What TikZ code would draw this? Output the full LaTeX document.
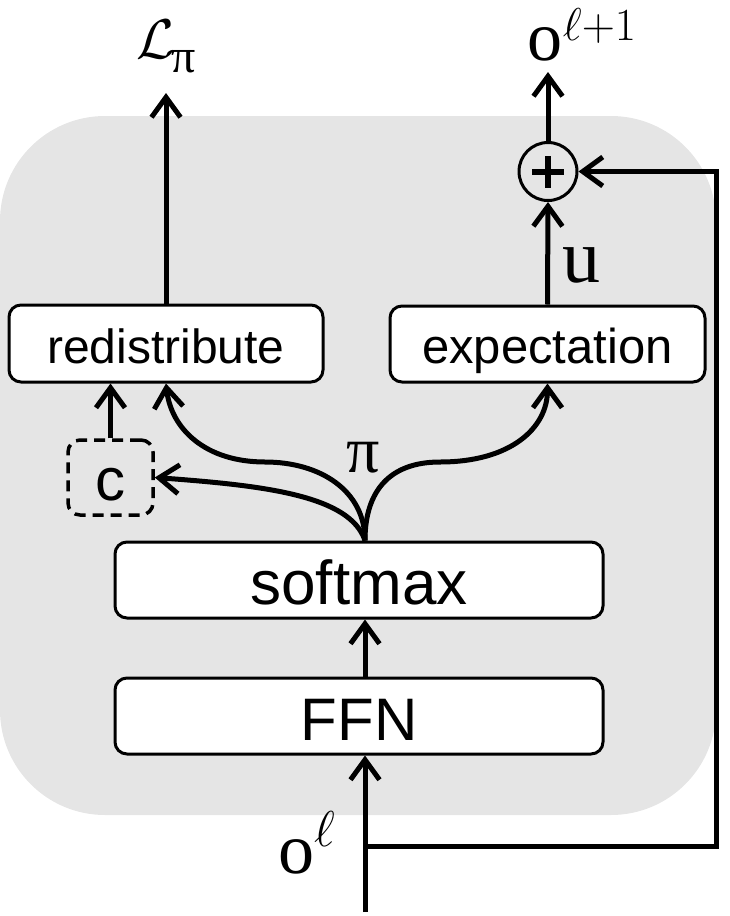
\RequirePackage{fix-cm}
\documentclass[tikz,border=0pt]{standalone}
\usepackage{fontspec}
\usetikzlibrary{arrows.meta}
\newfontfamily\arial{Liberation Sans}
\newfontfamily\tms{Liberation Serif}
\begin{document}
\begin{tikzpicture}[x=1pt,y=-1pt,
  box/.style={draw,line width=3pt,rounded corners=12pt,fill=white,inner sep=0pt,text depth=0pt},
  conn/.style={line width=5pt,-{Straight Barb[length=20pt,width=29pt]}},
  lbl/.style={inner sep=0pt,anchor=base}]
\useasboundingbox (0,0) rectangle (730,916);
\fill[gray!20,rounded corners=105pt] (0,116) rectangle (716,815);

\node[box,minimum width=314pt,minimum height=77pt,text height=39pt,font=\arial\fontsize{48}{48}\selectfont] (red) at (166,343.5) {redistribute};
\node[box,minimum width=315pt,minimum height=76pt,text height=39pt,font=\arial\fontsize{49}{49}\selectfont] (exp) at (547.5,344) {expectation};
\node[box,minimum width=488pt,minimum height=76pt,text height=48pt,font=\arial\fontsize{62}{62}\selectfont] (soft) at (359,580) {softmax};
\node[box,minimum width=488pt,minimum height=76pt,text height=48pt,font=\arial\fontsize{60}{60}\selectfont] (ffn) at (359,716) {FFN};
\node[draw,line width=3.5pt,rounded corners=12pt,dash pattern=on 11pt off 7pt,inner sep=0pt,text depth=0pt,text height=45pt,minimum width=85pt,minimum height=75pt,font=\arial\fontsize{60}{60}\selectfont] (c) at (110.5,477.5) {c};
\node[circle,draw,line width=3pt,minimum size=58pt,inner sep=0pt] (plus) at (548,171.5) {};
\draw[line width=6pt] ([xshift=-16pt]plus.center) -- ([xshift=16pt]plus.center);
\draw[line width=6pt] ([yshift=-16pt]plus.center) -- ([yshift=16pt]plus.center);

\node[lbl] (Lpi) at (166,58) {\fontsize{56}{56}\selectfont$\mathcal{L}$\kern-3pt\raisebox{-14pt}{\tms\fontsize{48}{48}\selectfont π}};
\node[lbl] (out) at (582,60) {\tms\fontsize{70}{70}\selectfont o\raisebox{20pt}{\fontsize{46}{46}\selectfont$\ell{+}1$}};
\node[lbl] (oin) at (307,873) {\tms\fontsize{72}{72}\selectfont o$^{\ell}$};
\node[lbl] (u) at (581,282) {\tms\fontsize{76}{76}\selectfont u};
\node[lbl] (pi) at (363,472) {\tms\fontsize{66}{66}\selectfont π};

\coordinate (col) at (365,0);
\coordinate (in) at (365,912);
\coordinate (split) at (365,846);
\coordinate (rc) at (716,171.5);
\coordinate (Ltip) at (166,93);
\coordinate (otip) at (548,72);
\coordinate (lbend) at (265,462);
\coordinate (rbend) at (440,462);

\draw[conn] (in) -- (ffn.south -| col);
\draw[conn] (ffn.north -| col) -- (soft.south -| col);
\draw[conn] (split) -| (rc) -- (plus.east);
\draw[conn] (red.north) -- (Ltip);
\draw[conn] (plus.north) -- (otip);
\draw[conn] (exp.north) -- (plus.south);
\draw[conn] (c.north) -- (red.south -| c.north);
\draw[conn] (soft.north -| col) .. controls +(0,-50) and +(55,0) .. (lbend) .. controls +(-60,0) and +(5,45) .. (red.south);
\draw[conn] (soft.north -| col) .. controls +(0,-50) and +(-50,0) .. (rbend) .. controls +(70,0) and +(0,45) .. (exp.south);
\draw[conn] (soft.north -| col) .. controls +(-15,-45) and +(110,8) .. (c.east);
\end{tikzpicture}
\end{document}
